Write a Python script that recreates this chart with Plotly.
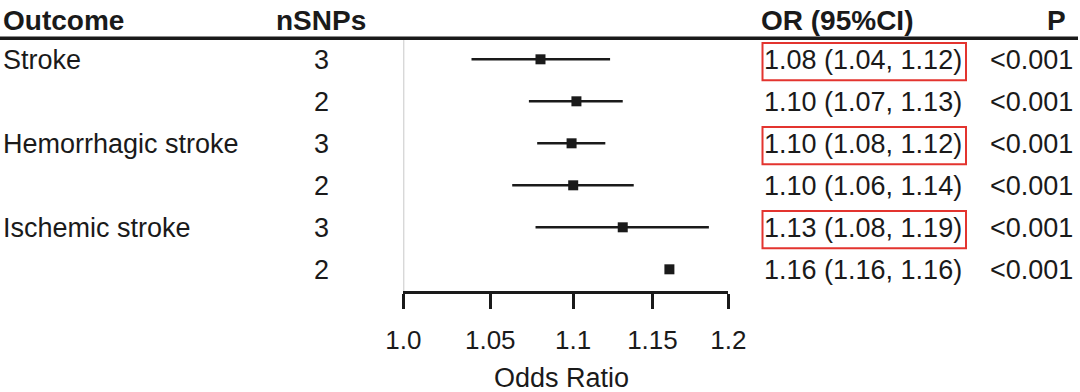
import plotly.graph_objects as go

# ---- data ----
outcomes = ["Stroke", "", "Hemorrhagic stroke", "", "Ischemic stroke", ""]
nsnps = [3, 2, 3, 2, 3, 2]
or_est = [1.080, 1.102, 1.099, 1.100, 1.131, 1.161]
ci_low = [1.039, 1.073, 1.078, 1.063, 1.077, 1.161]
ci_high = [1.123, 1.131, 1.120, 1.138, 1.187, 1.161]
or_text = ["1.08 (1.04, 1.12)", "1.10 (1.07, 1.13)", "1.10 (1.08, 1.12)",
           "1.10 (1.06, 1.14)", "1.13 (1.08, 1.19)", "1.16 (1.16, 1.16)"]
p_text = ["<0.001"] * 6
highlight = [True, False, True, False, True, False]
tick_vals = [1.0, 1.05, 1.1, 1.15, 1.2]
tick_text = ["1.0", "1.05", "1.1", "1.15", "1.2"]

W, H = 1080, 392
FONT = "Liberation Sans, Arial, sans-serif"
FS = 27
HFS = 28
TXT = "#1a1a1a"
rows = list(range(len(or_est)))

def px(x):
    return x / W

def py(y):
    return 1 - y / H

fig = go.Figure()

fig.add_trace(go.Scatter(
    x=or_est, y=rows, mode="markers",
    marker=dict(symbol="square", size=10, color="#1a1a1a"),
    error_x=dict(type="data", symmetric=False,
                 array=[h - o for h, o in zip(ci_high, or_est)],
                 arrayminus=[o - l for o, l in zip(or_est, ci_low)],
                 width=0, thickness=2.5, color="#1a1a1a"),
    showlegend=False, hoverinfo="skip", cliponaxis=False,
))

ann = []
hdr_y = -0.95
ann.append(dict(text="Outcome", x=px(1), xanchor="left", y=hdr_y))
ann.append(dict(text="nSNPs", x=px(321), xanchor="center", y=hdr_y))
ann.append(dict(text="OR (95%CI)", x=px(759), xanchor="left", y=hdr_y))
ann.append(dict(text="P", x=px(1068), xanchor="right", y=hdr_y))
for a in ann:
    a["font"] = dict(family=FONT, size=HFS, color=TXT, weight="bold")
for i in rows:
    f = dict(family=FONT, size=FS, color=TXT)
    if outcomes[i]:
        ann.append(dict(text=outcomes[i], x=px(1), xanchor="left", y=i, font=f))
    ann.append(dict(text=str(nsnps[i]), x=px(321), xanchor="center", y=i, font=f))
    ann.append(dict(text=or_text[i], x=px(762), xanchor="left", y=i, font=f))
    ann.append(dict(text=p_text[i], x=px(1075), xanchor="right", y=i, font=f))
for a in ann:
    a.update(xref="paper", yref="y", yanchor="middle", showarrow=False, yshift=-1)

ann.append(dict(text="Odds Ratio", x=px(561), xref="paper", xanchor="center",
                y=py(378), yref="paper", yanchor="middle", showarrow=False,
                font=dict(family=FONT, size=FS, color=TXT)))

shapes = []
# header rule
shapes.append(dict(type="line", xref="paper", yref="paper", x0=0, x1=px(1078),
                   y0=py(38.3), y1=py(38.3), line=dict(color="#1a1a1a", width=3.5)))
# reference line at OR = 1
shapes.append(dict(type="line", xref="x", yref="paper", x0=1.0, x1=1.0,
                   y0=py(291.7), y1=py(40), line=dict(color="#c8c8c8", width=2),
                   layer="below"))
# red highlight boxes
for i in rows:
    if highlight[i]:
        shapes.append(dict(type="rect", xref="paper", yref="y",
                           x0=px(762.5), x1=px(966), y0=i - 0.39, y1=i + 0.5,
                           line=dict(color="#e3342f", width=2)))

fig.update_layout(
    width=W, height=H, margin=dict(l=0, r=0, t=0, b=0, pad=0, autoexpand=False),
    paper_bgcolor="white", plot_bgcolor="white",
    annotations=ann, shapes=shapes,
    xaxis=dict(type="log", domain=[px(403.3), px(728.3)],
               range=[0, 0.0791812], anchor="free", position=py(291.7),
               showline=True, linecolor="#1a1a1a", linewidth=3,
               ticks="outside", ticklen=15, tickwidth=3, tickcolor="#1a1a1a",
               tickvals=tick_vals, ticktext=tick_text, automargin=False,
               ticklabelstandoff=9,
               tickfont=dict(family=FONT, size=26, color=TXT),
               showgrid=False, zeroline=False, fixedrange=True),
    yaxis=dict(domain=[0, 1], range=[7.921, -1.412], visible=False, automargin=False,
               showgrid=False, zeroline=False, fixedrange=True),
)

fig.write_html("out.html", config=dict(displayModeBar=False),
               post_script="document.body.style.margin='0';document.body.style.overflow='hidden';")
